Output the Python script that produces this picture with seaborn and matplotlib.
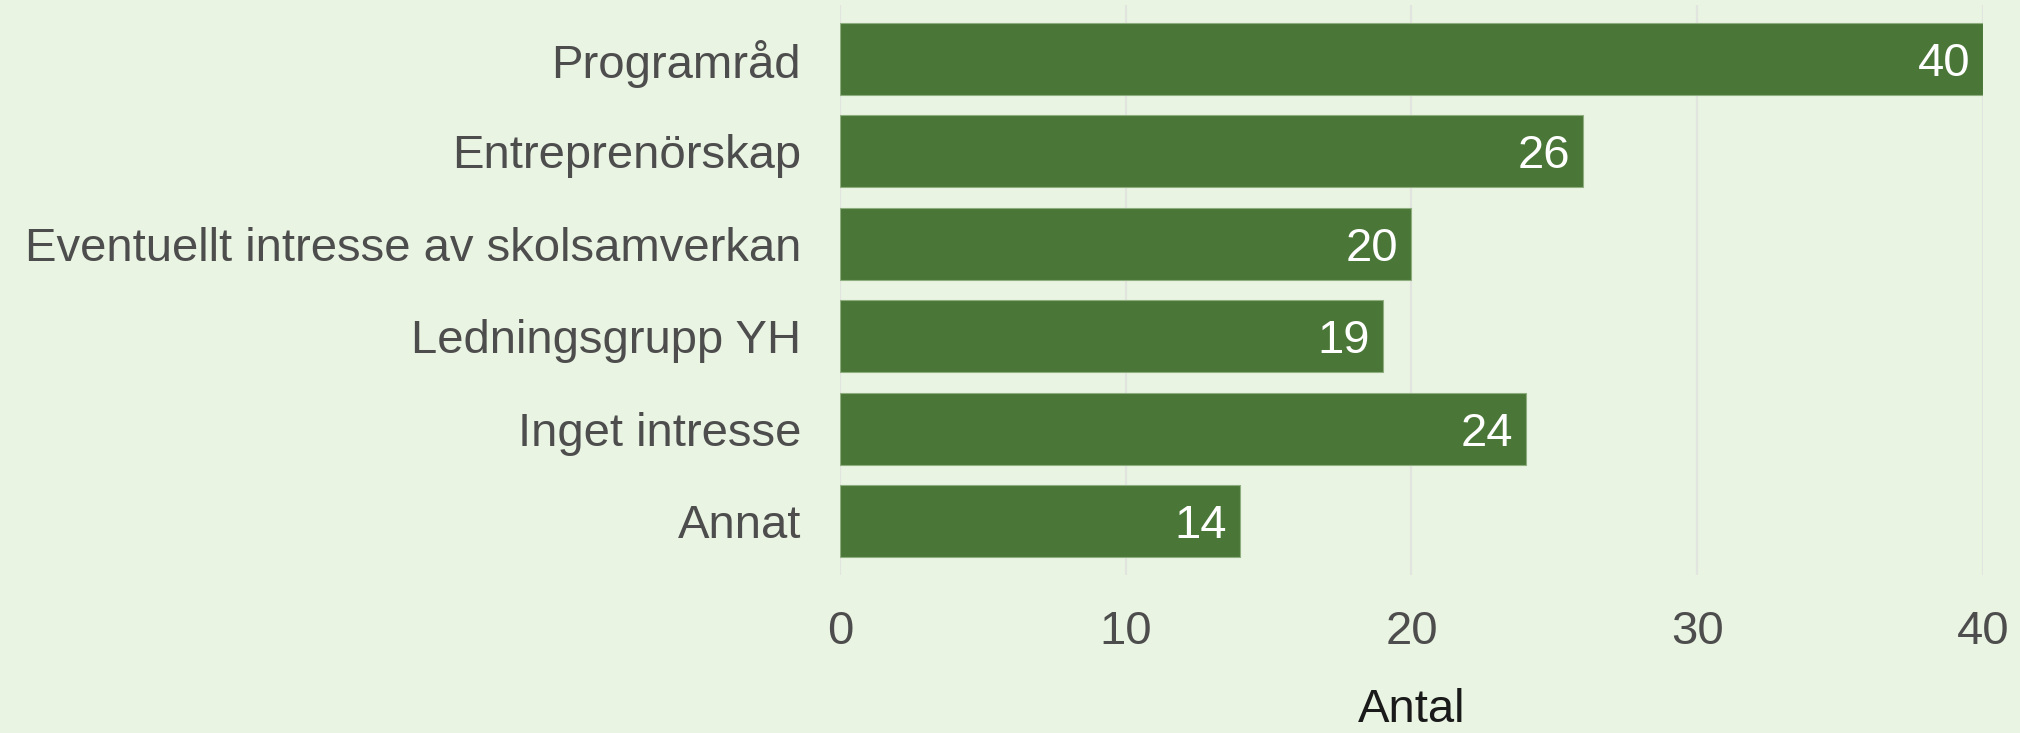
import pandas as pd
import matplotlib.pyplot as plt
import seaborn as sns

# data
categories = ["Programråd", "Entreprenörskap", "Eventuellt intresse av skolsamverkan",
              "Ledningsgrupp YH", "Inget intresse", "Annat"]
counts = [40, 26, 20, 19, 24, 14]
x_ticks = [0, 10, 20, 30, 40]

df = pd.DataFrame({"kategori": categories, "antal": counts})

bg = "#e9f4e2"
bar_color = "#4a7737"

sns.set_theme(style="white")
plt.rcParams["font.family"] = ["Liberation Sans", "DejaVu Sans"]

fig = plt.figure(figsize=(20.2, 7.33), dpi=100, facecolor=bg)
ax = fig.add_axes([0.4158, 0.2156, 0.9817 - 0.4158, 0.9932 - 0.2156])
ax.set_facecolor(bg)

sns.barplot(data=df, x="antal", y="kategori", color=bar_color, saturation=1,
            width=0.78, edgecolor="#8fae80", linewidth=0.8, ax=ax, zorder=2)

# value labels inside the bar ends (baseline placed so digits sit centred)
for bar, v in zip(ax.patches, counts):
    yc = bar.get_y() + bar.get_height() / 2
    ax.text(bar.get_width() - 0.45, yc + 0.185, str(v),
            ha="right", va="baseline", color="white", fontsize=34, zorder=3)

ax.set_xlim(0, 40)
ax.set_ylim(5.585, -0.585)
ax.set_xticks(x_ticks)
ax.grid(axis="x", color="#e2e4e0", linewidth=1.6, zorder=0)
ax.grid(axis="y", visible=False)
for s in ax.spines.values():
    s.set_visible(False)

ax.tick_params(axis="x", length=0, pad=25, labelsize=34, labelcolor="#4d4d4d")
ax.tick_params(axis="y", length=0, pad=28, labelsize=34, labelcolor="#4d4d4d")
ax.set_ylabel("")
ax.set_xlabel("")
# axis title sits near the bottom edge, as in the reference
fig.text(0.5 * (0.4158 + 0.9817), 11 / 733, "Antal", ha="center", va="baseline",
         fontsize=34, color="#1a1a1a")

fig.savefig("out.png", dpi=100, facecolor=bg)
plt.close(fig)
